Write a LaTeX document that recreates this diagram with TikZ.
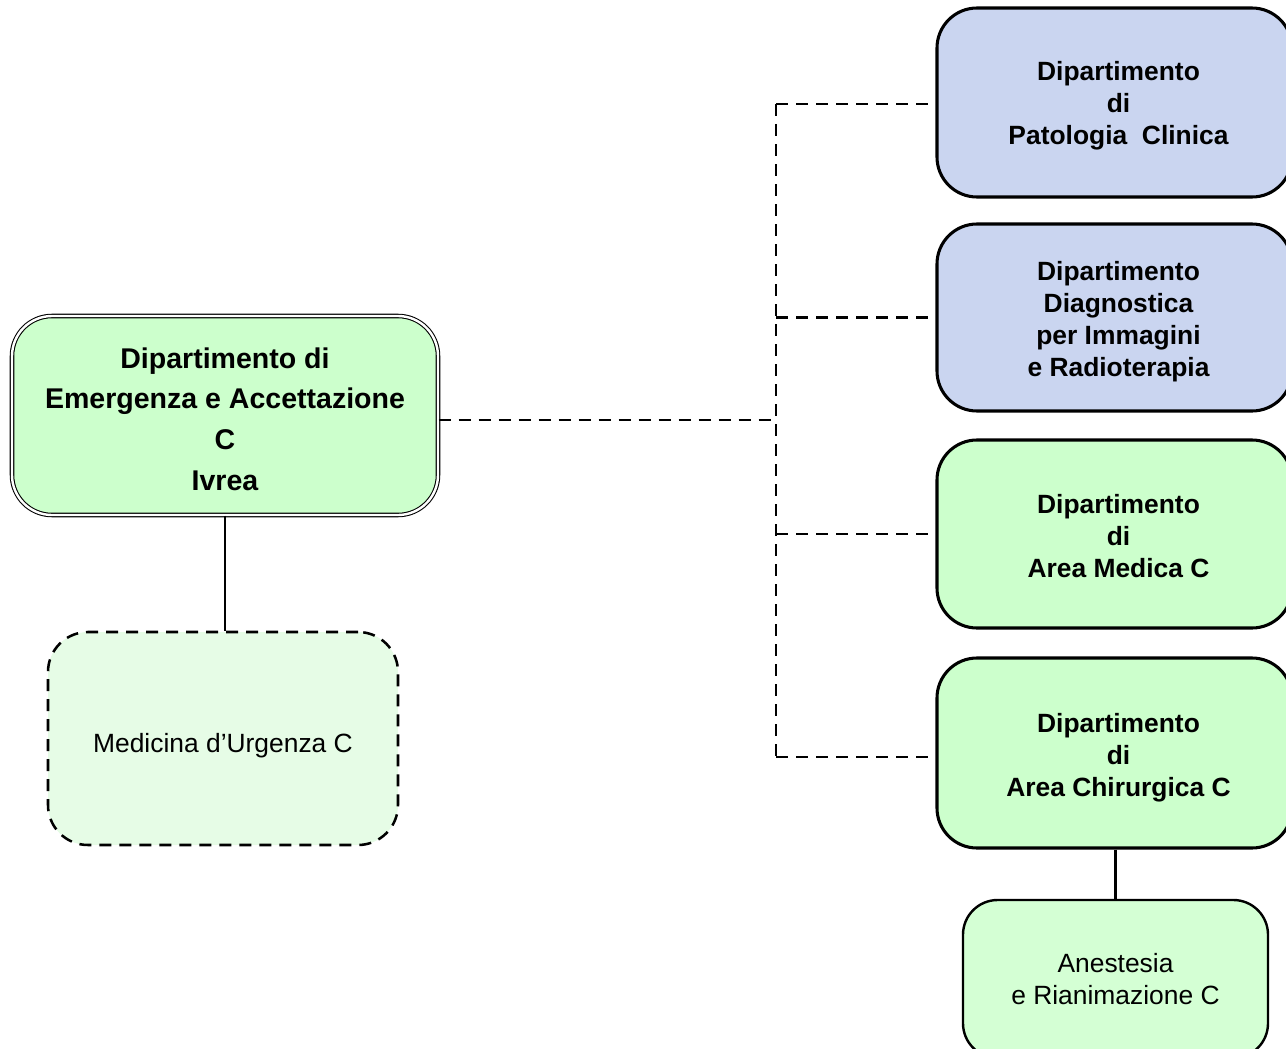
\documentclass[tikz,border=0pt]{standalone}
\usepackage{fontspec}
\setmainfont{Liberation Sans}
\definecolor{gfill}{HTML}{CCFFCC}
\definecolor{gfilllight}{HTML}{E6FCE6}
\definecolor{bfill}{HTML}{CAD5F0}
\tikzset{
  px/.style={x=0.75pt,y=-0.75pt},
  basebox/.style={rectangle, rounded corners=30pt, align=center, inner sep=0pt},
  rbox/.style={basebox, draw=black, line width=2.3pt, minimum width=266.25pt},
  rtext/.style={align=center, inner sep=0pt, font=\fontsize{19.8pt}{24pt}\selectfont\bfseries},
  mainbox/.style={basebox, draw=black, line width=0.8pt, double=white, double distance=1.8pt,
     fill=gfill, minimum width=319.5pt, minimum height=149.25pt},
  maintext/.style={align=center, inner sep=0pt, font=\fontsize{21.4pt}{30.6pt}\selectfont\bfseries},
  subbox/.style={basebox, draw=black, fill=gfilllight},
  subtext/.style={align=center, inner sep=0pt, font=\fontsize{19.8pt}{24pt}\selectfont},
  conn/.style={line width=1.9pt, dash pattern=on 9pt off 6pt},
  solidconn/.style={line width=1.6pt},
}
\begin{document}
\begin{tikzpicture}[px]
\useasboundingbox (0,0) rectangle (1286,1049);
\clip (0,0) rectangle (1286,1049);
% right boxes
\node[rbox, fill=bfill, minimum height=141.75pt] (b1) at (1114.5,102.5) {};
\node[rtext] (b1t) at ([shift={(4,3)}]b1.center) {Dipartimento\\di\\Patologia\ \ Clinica};
\node[rbox, fill=bfill, minimum height=140.25pt] (b2) at (1114.5,317.5) {};
\node[rtext] (b2t) at ([shift={(4,4)}]b2.center) {Dipartimento\\Diagnostica\\per Immagini\\e Radioterapia};
\node[rbox, fill=gfill, minimum height=141pt] (b3) at (1114.5,534) {};
\node[rtext] (b3t) at ([shift={(4,2)}]b3.center) {Dipartimento\\di\\Area Medica C};
\node[rbox, fill=gfill, minimum height=142.5pt] (b4) at (1114.5,753) {};
\node[rtext] (b4t) at ([shift={(4,5)}]b4.center) {Dipartimento\\di\\Area Chirurgica C};
% main box
\node[mainbox] (main) at (225,415.5) {};
\node[maintext] (maint) at ([shift={(0,3.5)}]main.center) {Dipartimento di\\Emergenza e Accettazione\\C\\Ivrea};
% sub boxes
\node[subbox, line width=1.9pt, dash pattern=on 9pt off 6pt, minimum width=262.5pt, minimum height=159.75pt] (med) at (223,738.5) {};
\node[subtext] (medt) at ([shift={(0,7)}]med.center) {Medicina d’Urgenza C};
\node[subbox, fill=gfill!85!white, line width=1.8pt, rounded corners=26pt, minimum width=228.75pt, minimum height=118.5pt] (anest) at (1115.5,979) {};
\node[subtext] (anestt) at (anest.center) {Anestesia\\e Rianimazione C};
% connectors
\coordinate (vtop) at (776,104);
\coordinate (vbot) at (776,757);
\coordinate (vmid) at (776,420);
\draw[conn] (main.east |- vmid) -- (vmid);
\draw[conn] (vtop) -- (vbot);
\draw[conn] (vtop) -- (b1.west |- vtop);
\draw[conn] (b2.west -| vtop) -- (b2.west);
\draw[conn] (b3.west -| vtop) -- (b3.west);
\draw[conn] (vbot) -- (b4.west |- vbot);
\draw[solidconn] (main.south) -- (main.south |- med.north);
\draw[solidconn] (anest.north |- b4.south) -- (anest.north);
\end{tikzpicture}
\end{document}
